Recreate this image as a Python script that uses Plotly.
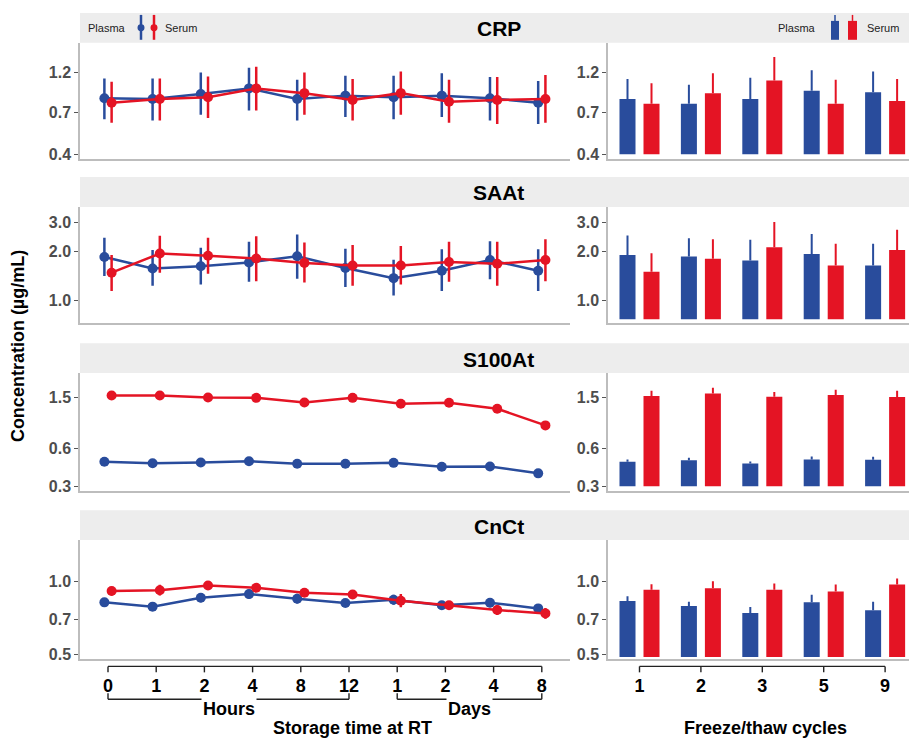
import plotly.graph_objects as go

W, H = 909, 742
FONT = "Liberation Sans, Arial, sans-serif"
BLUE = "#294C9C"
RED = "#E41424"
AXIS_GRAY = "#BDBDBD"
STRIP = "#EDEDED"

# ---------------- data ----------------
time_labels = ["0", "1", "2", "4", "8", "12", "1", "2", "4", "8"]
ft_labels = ["1", "2", "3", "5", "9"]
analytes = ["CRP", "SAAt", "S100At", "CnCt"]

# storage time at RT (mean, upper, lower of error bar), µg/mL
crp_plasma_mean = [0.85, 0.84, 0.90, 0.97, 0.84, 0.88, 0.86, 0.88, 0.85, 0.80]
crp_plasma_hi = [1.11, 1.11, 1.20, 1.28, 1.09, 1.15, 1.15, 1.19, 1.13, 1.07]
crp_plasma_lo = [0.64, 0.63, 0.68, 0.72, 0.63, 0.66, 0.64, 0.66, 0.63, 0.60]
crp_serum_mean = [0.80, 0.84, 0.86, 0.97, 0.91, 0.83, 0.91, 0.81, 0.83, 0.84]
crp_serum_hi = [1.06, 1.11, 1.14, 1.30, 1.20, 1.10, 1.22, 1.09, 1.13, 1.16]
crp_serum_lo = [0.61, 0.63, 0.65, 0.72, 0.68, 0.63, 0.68, 0.61, 0.60, 0.61]

saa_plasma_mean = [1.85, 1.57, 1.62, 1.71, 1.87, 1.58, 1.37, 1.52, 1.77, 1.52]
saa_plasma_hi = [2.43, 2.04, 2.11, 2.29, 2.54, 2.08, 1.78, 2.06, 2.31, 2.06]
saa_plasma_lo = [1.41, 1.23, 1.25, 1.30, 1.36, 1.21, 1.07, 1.14, 1.35, 1.14]
saa_serum_mean = [1.48, 1.94, 1.88, 1.81, 1.70, 1.64, 1.64, 1.72, 1.68, 1.77]
saa_serum_hi = [1.90, 2.50, 2.43, 2.48, 2.27, 2.19, 2.16, 2.29, 2.29, 2.38]
saa_serum_lo = [1.14, 1.48, 1.46, 1.31, 1.29, 1.23, 1.25, 1.30, 1.23, 1.31]

s100_plasma_mean = [0.469, 0.457, 0.463, 0.474, 0.452, 0.452, 0.460, 0.428, 0.431, 0.380]
s100_plasma_hi = [0.480, 0.468, 0.474, 0.485, 0.463, 0.463, 0.471, 0.439, 0.442, 0.390]
s100_plasma_lo = [0.458, 0.446, 0.452, 0.463, 0.441, 0.441, 0.449, 0.417, 0.420, 0.370]
s100_serum_mean = [1.565, 1.565, 1.509, 1.500, 1.379, 1.500, 1.346, 1.370, 1.230, 0.909]
s100_serum_hi = [1.68, 1.68, 1.62, 1.61, 1.48, 1.61, 1.45, 1.47, 1.32, 0.98]
s100_serum_lo = [1.46, 1.46, 1.40, 1.40, 1.28, 1.40, 1.25, 1.27, 1.14, 0.85]

cnc_plasma_mean = [0.823, 0.790, 0.860, 0.890, 0.852, 0.818, 0.844, 0.800, 0.820, 0.777]
cnc_plasma_hi = [0.849, 0.805, 0.899, 0.930, 0.893, 0.838, 0.885, 0.834, 0.857, 0.807]
cnc_plasma_lo = [0.797, 0.775, 0.823, 0.852, 0.813, 0.798, 0.805, 0.768, 0.785, 0.749]
cnc_serum_mean = [0.916, 0.924, 0.966, 0.945, 0.901, 0.887, 0.836, 0.800, 0.765, 0.741]
cnc_serum_hi = [0.954, 0.972, 1.003, 0.985, 0.939, 0.921, 0.890, 0.830, 0.802, 0.780]
cnc_serum_lo = [0.879, 0.878, 0.931, 0.907, 0.865, 0.855, 0.785, 0.771, 0.730, 0.704]

# freeze/thaw cycles (bar height, top of error bar)
ft_crp_plasma = [0.84, 0.79, 0.84, 0.94, 0.92]
ft_crp_plasma_hi = [1.10, 1.02, 1.12, 1.24, 1.22]
ft_crp_serum = [0.79, 0.91, 1.08, 0.79, 0.82]
ft_crp_serum_hi = [1.04, 1.19, 1.48, 1.09, 1.10]

ft_saa_plasma = [1.90, 1.86, 1.76, 1.93, 1.64]
ft_saa_plasma_hi = [2.51, 2.41, 2.36, 2.56, 2.23]
ft_saa_serum = [1.50, 1.80, 2.12, 1.64, 2.04]
ft_saa_serum_hi = [1.95, 2.38, 3.03, 2.23, 2.72]

ft_s100_plasma = [0.469, 0.483, 0.455, 0.489, 0.486]
ft_s100_plasma_hi = [0.489, 0.504, 0.472, 0.516, 0.513]
ft_s100_serum = [1.55, 1.62, 1.53, 1.58, 1.52]
ft_s100_serum_hi = [1.71, 1.80, 1.67, 1.74, 1.71]

ft_cnc_plasma = [0.833, 0.795, 0.744, 0.823, 0.763]
ft_cnc_plasma_hi = [0.873, 0.828, 0.787, 0.884, 0.828]
ft_cnc_serum = [0.927, 0.942, 0.927, 0.913, 0.975]
ft_cnc_serum_hi = [0.978, 1.006, 0.984, 0.975, 1.032]

# axis settings per analyte
y_tickvals = [[0.4, 0.7, 1.2], [1.0, 2.0, 3.0], [0.3, 0.6, 1.5], [0.5, 0.7, 1.0]]
y_ticktext = [["0.4", "0.7", "1.2"], ["1.0", "2.0", "3.0"], ["0.3", "0.6", "1.5"], ["0.5", "0.7", "1.0"]]
y_logrange = [[-0.427, 0.2537], [-0.1407, 0.575], [-0.5622, 0.3725], [-0.3203, 0.1725]]
bar_base = [0.4, 0.765, 0.3, 0.49]

time_series = [
    (crp_plasma_mean, crp_plasma_hi, crp_plasma_lo, crp_serum_mean, crp_serum_hi, crp_serum_lo),
    (saa_plasma_mean, saa_plasma_hi, saa_plasma_lo, saa_serum_mean, saa_serum_hi, saa_serum_lo),
    (s100_plasma_mean, s100_plasma_hi, s100_plasma_lo, s100_serum_mean, s100_serum_hi, s100_serum_lo),
    (cnc_plasma_mean, cnc_plasma_hi, cnc_plasma_lo, cnc_serum_mean, cnc_serum_hi, cnc_serum_lo),
]
ft_series = [
    (ft_crp_plasma, ft_crp_plasma_hi, ft_crp_serum, ft_crp_serum_hi),
    (ft_saa_plasma, ft_saa_plasma_hi, ft_saa_serum, ft_saa_serum_hi),
    (ft_s100_plasma, ft_s100_plasma_hi, ft_s100_serum, ft_s100_serum_hi),
    (ft_cnc_plasma, ft_cnc_plasma_hi, ft_cnc_serum, ft_cnc_serum_hi),
]

# ---------------- layout geometry (pixels) ----------------
def px_y(p):
    return 1 - p / H

def px_x(p):
    return p / W

plot_rows = [(43, 160), (208, 325), (375, 494), (543, 663)]
strip_rows = [(13, 43), (178, 208), (345, 375), (513, 543)]
left_dom = [px_x(80), px_x(570)]
right_dom = [px_x(608), 1.0]
left_xrange = [-0.581, 9.585]
right_xrange = [-0.513, 4.389]
dodge = 0.075

fig = go.Figure()
layout = dict(
    width=W, height=H, margin=dict(l=0, r=0, t=0, b=0),
    paper_bgcolor="white", plot_bgcolor="white",
    showlegend=False, barmode="group", bargap=0.218, bargroupgap=0.333,
    font=dict(family=FONT),
)

tick_idx_time = list(range(len(time_labels)))
tick_idx_ft = list(range(len(ft_labels)))

for r in range(4):
    nl, nr = 2 * r + 1, 2 * r + 2
    top, bot = plot_rows[r]
    ydom = [px_y(bot), px_y(top)]
    bottom_row = (r == 3)
    for n, dom, xr, tv, tt in [(nl, left_dom, left_xrange, tick_idx_time, time_labels),
                               (nr, right_dom, right_xrange, tick_idx_ft, ft_labels)]:
        layout[f"xaxis{n}"] = dict(
            domain=dom, anchor=f"y{n}", range=xr, showline=True, linecolor=AXIS_GRAY,
            linewidth=1.5, showgrid=False, zeroline=False, ticks="",
            tickvals=tv, ticktext=tt, showticklabels=bottom_row,
            tickfont=dict(family=FONT, size=18, color="black", weight="bold"),
            ticklabelstandoff=9,
        )
        layout[f"yaxis{n}"] = dict(
            domain=ydom, anchor=f"x{n}", type="log", range=y_logrange[r],
            tickvals=y_tickvals[r], ticktext=y_ticktext[r],
            showline=True, linecolor=AXIS_GRAY, linewidth=1.5,
            showgrid=False, zeroline=False, ticks="outside", ticklen=4,
            tickwidth=1.2, tickcolor="#555555",
            tickfont=dict(family=FONT, size=16, color="#4D4D4D", weight="bold"),
        )

    pm, ph, pl, sm, sh, sl = time_series[r]
    for mean, hi, lo, col, off, name in [(pm, ph, pl, BLUE, -dodge, "Plasma"),
                                         (sm, sh, sl, RED, dodge, "Serum")]:
        fig.add_trace(go.Scatter(
            x=[i + off for i in tick_idx_time], y=mean, name=name,
            mode="lines+markers", xaxis=f"x{nl}", yaxis=f"y{nl}",
            line=dict(color=col, width=2.5),
            marker=dict(color=col, size=10),
            error_y=dict(type="data", symmetric=False,
                         array=[h - m for h, m in zip(hi, mean)],
                         arrayminus=[m - l for m, l in zip(mean, lo)],
                         color=col, thickness=2.5, width=0),
        ))

    bp, bph, bs, bsh = ft_series[r]
    base = bar_base[r]
    for vals, his, col, name in [(bp, bph, BLUE, "Plasma"), (bs, bsh, RED, "Serum")]:
        fig.add_trace(go.Bar(
            x=tick_idx_ft, y=[v - base for v in vals], base=base, name=name,
            xaxis=f"x{nr}", yaxis=f"y{nr}", marker=dict(color=col, line=dict(width=0)),
            error_y=dict(type="data", symmetric=False,
                         array=[h - v for h, v in zip(his, vals)],
                         arrayminus=[0] * len(vals), color=col, thickness=2, width=0),
        ))

fig.update_layout(**layout)

shapes = []
annotations = []

# strips and titles
for r in range(4):
    s_top, s_bot = strip_rows[r]
    shapes.append(dict(type="rect", xref="paper", yref="paper", x0=px_x(80), x1=1.0,
                       y0=px_y(s_bot), y1=px_y(s_top), fillcolor=STRIP, line=dict(width=0),
                       layer="below"))
    annotations.append(dict(text=analytes[r], xref="paper", yref="paper", x=px_x(499),
                            y=px_y((s_top + s_bot) / 2 + 1), showarrow=False,
                            xanchor="center", yanchor="middle",
                            font=dict(family=FONT, size=21, color="black", weight="bold")))

# bracket x-axis lines (bottom row)
LINE = dict(color="#222222", width=1.4)
for xref, idx in [("x7", tick_idx_time), ("x8", tick_idx_ft)]:
    shapes.append(dict(type="line", xref=xref, yref="paper", x0=idx[0], x1=idx[-1],
                       y0=px_y(670), y1=px_y(670), line=LINE))
    for i in idx:
        shapes.append(dict(type="line", xref=xref, yref="paper", x0=i, x1=i,
                           y0=px_y(670), y1=px_y(676), line=LINE))

# Hours / Days group brackets
groups = [("Hours", 0, 5), ("Days", 6, 9)]
for label, a, b in groups:
    shapes.append(dict(type="line", xref="x7", yref="paper", x0=a, x1=b,
                       y0=px_y(703), y1=px_y(703), line=LINE))
    for e in (a, b):
        shapes.append(dict(type="line", xref="x7", yref="paper", x0=e, x1=e,
                           y0=px_y(697), y1=px_y(703), line=LINE))
    annotations.append(dict(text=label, xref="x7", yref="paper", x=(a + b) / 2,
                            y=px_y(701), showarrow=False, xanchor="center", yanchor="top",
                            bgcolor="white", borderpad=1,
                            font=dict(family=FONT, size=18, color="black", weight="bold")))

# axis titles
annotations.append(dict(text="Storage time at RT", xref="paper", yref="paper", x=px_x(352),
                        y=px_y(732), showarrow=False, xanchor="center", yanchor="middle",
                        font=dict(family=FONT, size=18, color="black", weight="bold")))
annotations.append(dict(text="Freeze/thaw cycles", xref="paper", yref="paper", x=px_x(765),
                        y=px_y(732), showarrow=False, xanchor="center", yanchor="middle",
                        font=dict(family=FONT, size=18, color="black", weight="bold")))
annotations.append(dict(text="Concentration (µg/mL)", xref="paper", yref="paper", x=px_x(18),
                        y=px_y(348), showarrow=False, textangle=-90, xanchor="center",
                        yanchor="middle",
                        font=dict(family=FONT, size=18, color="black", weight="bold")))

# legends drawn in the first strip
LEG_FONT = dict(family=FONT, size=11, color="#222222")
annotations.append(dict(text="Plasma", xref="paper", yref="paper", x=px_x(86), y=px_y(28),
                        showarrow=False, xanchor="left", yanchor="middle", font=LEG_FONT))
annotations.append(dict(text="Serum", xref="paper", yref="paper", x=px_x(163), y=px_y(28),
                        showarrow=False, xanchor="left", yanchor="middle", font=LEG_FONT))
for cx, col in [(141, BLUE), (154, RED)]:
    shapes.append(dict(type="line", xref="paper", yref="paper", x0=px_x(cx), x1=px_x(cx),
                       y0=px_y(15), y1=px_y(40), line=dict(color=col, width=2.5)))
    shapes.append(dict(type="circle", xref="paper", yref="paper",
                       x0=px_x(cx - 3.5), x1=px_x(cx + 3.5), y0=px_y(31.5), y1=px_y(24.5),
                       fillcolor=col, line=dict(width=0)))

annotations.append(dict(text="Plasma", xref="paper", yref="paper", x=px_x(776), y=px_y(28),
                        showarrow=False, xanchor="left", yanchor="middle", font=LEG_FONT))
annotations.append(dict(text="Serum", xref="paper", yref="paper", x=px_x(865), y=px_y(28),
                        showarrow=False, xanchor="left", yanchor="middle", font=LEG_FONT))
for x0, x1, col in [(831, 839, BLUE), (848, 857, RED)]:
    shapes.append(dict(type="rect", xref="paper", yref="paper", x0=px_x(x0), x1=px_x(x1),
                       y0=px_y(40), y1=px_y(21), fillcolor=col, line=dict(width=0)))
    shapes.append(dict(type="line", xref="paper", yref="paper", x0=px_x((x0 + x1) / 2),
                       x1=px_x((x0 + x1) / 2), y0=px_y(21), y1=px_y(15),
                       line=dict(color=col, width=1.5)))

fig.update_layout(shapes=shapes, annotations=annotations)
fig.write_html("out.html")
